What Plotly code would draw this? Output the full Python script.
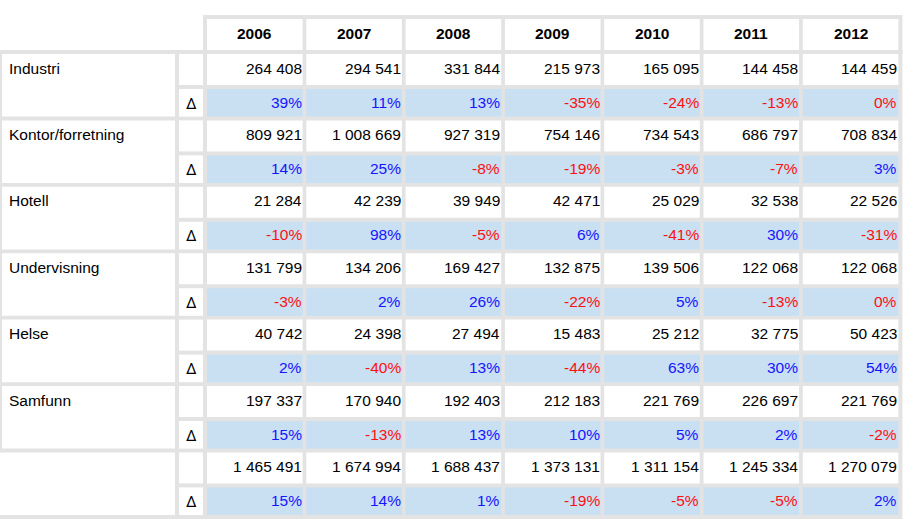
import plotly.graph_objects as go

# ---------------- data ----------------
years = ["2006", "2007", "2008", "2009", "2010", "2011", "2012"]
categories = ["Industri", "Kontor/forretning", "Hotell", "Undervisning", "Helse", "Samfunn", ""]

industri = [264408, 294541, 331844, 215973, 165095, 144458, 144459]
industri_d = [39, 11, 13, -35, -24, -13, -0.4]
kontor = [809921, 1008669, 927319, 754146, 734543, 686797, 708834]
kontor_d = [14, 25, -8, -19, -3, -7, 3]
hotell = [21284, 42239, 39949, 42471, 25029, 32538, 22526]
hotell_d = [-10, 98, -5, 6, -41, 30, -31]
undervisning = [131799, 134206, 169427, 132875, 139506, 122068, 122068]
undervisning_d = [-3, 2, 26, -22, 5, -13, -0.4]
helse = [40742, 24398, 27494, 15483, 25212, 32775, 50423]
helse_d = [2, -40, 13, -44, 63, 30, 54]
samfunn = [197337, 170940, 192403, 212183, 221769, 226697, 221769]
samfunn_d = [15, -13, 13, 10, 5, 2, -2]
totalt = [1465491, 1674994, 1688437, 1373131, 1311154, 1245334, 1270079]
totalt_d = [15, 14, 1, -19, -5, -5, 2]

delta_label = "Δ"

values = [industri, kontor, hotell, undervisning, helse, samfunn, totalt]
deltas = [industri_d, kontor_d, hotell_d, undervisning_d, helse_d, samfunn_d, totalt_d]

# ---------------- style / layout ----------------
W, H = 906, 523
GREY = "#e3e3e3"
WHITE = "#ffffff"
BLUE_FILL = "#c9dff2"
POS = "#1515ff"
NEG = "#ff1010"
FONT = "Arial, Liberation Sans, sans-serif"
FS = 15.5

col_x0 = 207.0
col_step = 99.3
col_w = 95.6
name_x0, name_x1 = 2, 175
dcol_x0, dcol_x1 = 179, 203
head_y0, head_y1 = 19, 50
grp_y0 = 54.0
grp_step = 66.4
row1_h = 31
row2_off, row2_h = 35, 27.6

shapes = []


def rect(x0, y0, x1, y1, color):
    shapes.append(dict(type="rect", xref="x", yref="y", x0=x0, x1=x1, y0=y0, y1=y1,
                       fillcolor=color, line=dict(width=0), layer="below"))


annotations = []


def text(x, y, s, anchor, color="black", bold=False, family=FONT, size=FS):
    annotations.append(dict(x=x, y=y, xref="x", yref="y", text=("<b>%s</b>" % s) if bold else s,
                            showarrow=False, xanchor=anchor, yanchor="middle",
                            font=dict(family=family, size=size, color=color),
                            borderpad=0, borderwidth=0))


n_cols = len(years)
n_grp = len(categories)
table_right = col_x0 + (n_cols - 1) * col_step + col_w + 4
table_bottom = grp_y0 + (n_grp - 1) * grp_step + row2_off + row2_h + 4

# grey backgrounds (the gaps become the grid lines)
rect(col_x0 - 4, head_y0 - 4, table_right, head_y1 + 4, GREY)
rect(0, head_y1, table_right, table_bottom, GREY)

# header
for i, yr in enumerate(years):
    x0 = col_x0 + i * col_step
    rect(x0, head_y0, x0 + col_w, head_y1, WHITE)
    text(x0 + col_w / 2, (head_y0 + head_y1) / 2 - 1.5, yr, "center", bold=True)

# body
for g, cat in enumerate(categories):
    top = grp_y0 + g * grp_step
    r2_top = top + row2_off
    r2_bot = r2_top + row2_h
    # merged category cell
    left = 0 if cat == "" else name_x0
    rect(left, top, name_x1, r2_bot, WHITE)
    if cat:
        text(name_x0 + 7, top + 14, cat, "left")
    # delta label column
    rect(dcol_x0, top, dcol_x1, top + row1_h, WHITE)
    rect(dcol_x0, r2_top, dcol_x1, r2_bot, WHITE)
    text((dcol_x0 + dcol_x1) / 2, r2_top + 14.5, delta_label, "center",
         family="Roboto, Liberation Sans, sans-serif", size=15)
    for i in range(n_cols):
        x0 = col_x0 + i * col_step
        x1 = x0 + col_w
        rect(x0, top, x1, top + row1_h, WHITE)
        rect(x0, r2_top, x1, r2_bot, BLUE_FILL)
        v = values[g][i]
        d = deltas[g][i]
        text(x1 - 1, top + 14, f"{v:,}".replace(",", " "), "right")
        col = NEG if d < 0 else POS
        text(x1 - 1, r2_top + 13, f"{int(round(d))}%", "right", color=col)

fig = go.Figure()
fig.add_trace(go.Scatter(x=[0, W], y=[0, H], mode="markers", marker=dict(opacity=0),
                         hoverinfo="skip", showlegend=False))
fig.update_layout(
    width=W, height=H, autosize=False,
    margin=dict(l=0, r=0, t=0, b=0, pad=0),
    paper_bgcolor="white", plot_bgcolor="white",
    xaxis=dict(range=[0, W], visible=False, fixedrange=True),
    yaxis=dict(range=[H, 0], visible=False, fixedrange=True),
    shapes=shapes, annotations=annotations, showlegend=False,
)
fig.write_html("out.html", config={"displayModeBar": False},
               post_script="document.body.style.margin='0';document.body.style.padding='0';")
